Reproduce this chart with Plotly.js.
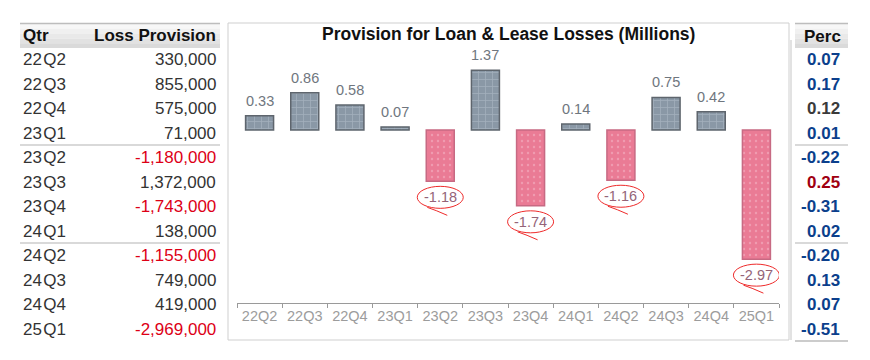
<!DOCTYPE html>
<html>
<head>
<meta charset="utf-8">
<script src="https://cdn.plot.ly/plotly-3.0.1.min.js"></script>
<style>html,body{margin:0;padding:0;background:#fff;}#chart{width:870px;height:360px;}</style>
</head>
<body>
<div id="chart"></div>
<script>
// ---- data ----
var quarters = ["22Q2","22Q3","22Q4","23Q1","23Q2","23Q3","23Q4","24Q1","24Q2","24Q3","24Q4","25Q1"];
var tableQtr = ["22\u200AQ2","22\u200AQ3","22\u200AQ4","23\u200AQ1","23\u200AQ2","23\u200AQ3","23\u200AQ4","24\u200AQ1","24\u200AQ2","24\u200AQ3","24\u200AQ4","25\u200AQ1"];
var provision = [330000, 855000, 575000, 71000, -1180000, 1372000, -1743000, 138000, -1155000, 749000, 419000, -2969000];
var perc = ["0.07","0.17","0.12","0.01","-0.22","0.25","-0.31","0.02","-0.20","0.13","0.07","-0.51"];
var percColors = ["#0b3f8c","#0b3f8c","#3a3a3a","#0b3f8c","#0b3f8c","#a00010","#0b3f8c","#0b3f8c","#0b3f8c","#0b3f8c","#0b3f8c","#0b3f8c"];

// ---- helpers ----
var W = 870, H = 360;
function px(x){ return x / W; }
function py(y){ return 1 - y / H; }
var FONT = "Liberation Sans, Arial, sans-serif";

var millions = provision.map(function(v){ return v / 1e6; });
var labels = provision.map(function(v){
  var s = v < 0 ? -1 : 1;
  return (s * Math.round(Math.abs(v) / 10000) / 100).toFixed(2);
});
function fmt(v){
  var s = Math.abs(v).toString().replace(/\B(?=(\d{3})+(?!\d))/g, ",");
  return (v < 0 ? "-" : "") + s;
}
var isNeg = millions.map(function(v){ return v < 0; });

var posTrace = {
  type: "bar", x: quarters,
  y: millions.map(function(v){ return v >= 0 ? v : null; }),
  width: 0.62,
  marker: {
    color: "#8a98a6",
    line: {color: "#5e656d", width: 1.5},
    pattern: {shape: "+", fillmode: "overlay", fgcolor: "#bcc7d2", bgcolor: "#8a98a6", size: 7, solidity: 0.2}
  },
  hoverinfo: "skip"
};
var negTrace = {
  type: "bar", x: quarters,
  y: millions.map(function(v){ return v < 0 ? v : null; }),
  width: 0.62,
  marker: {
    color: "#ea7b95",
    line: {color: "#c76a83", width: 1.5},
    pattern: {shape: ".", fillmode: "overlay", fgcolor: "#f6bccb", bgcolor: "#ea7b95", size: 6, solidity: 0.12}
  },
  hoverinfo: "skip"
};

var shapes = [];
var annotations = [];

// chart panel border
shapes.push({type:"rect", xref:"paper", yref:"paper", x0:px(228), x1:px(789), y0:py(340), y1:py(23), line:{color:"#cfcfcf", width:1}, fillcolor:"rgba(0,0,0,0)", layer:"below"});
shapes.push({type:"line", xref:"paper", yref:"paper", x0:px(791), x1:px(791), y0:py(340), y1:py(40), line:{color:"#e2e2e2", width:2}});

// header backgrounds (gradient approximation)
function headerBg(x0, x1){
  var steps = ["#f7f7f7","#f0f0f0","#e9e9e9","#e2e2e2","#dadada"];
  var top = 24, bot = 48, h = (bot - top) / steps.length;
  for (var i = 0; i < steps.length; i++){
    shapes.push({type:"rect", xref:"paper", yref:"paper", x0:px(x0), x1:px(x1), y0:py(top + (i+1)*h), y1:py(top + i*h), line:{width:0}, fillcolor:steps[i], layer:"below"});
  }
  shapes.push({type:"line", xref:"paper", yref:"paper", x0:px(x0), x1:px(x1), y0:py(23.5), y1:py(23.5), line:{color:"#bdbdbd", width:1.5}});
}
headerBg(20, 220);
headerBg(795, 848);

// separators
[145, 243].forEach(function(y){
  shapes.push({type:"line", xref:"paper", yref:"paper", x0:px(20), x1:px(220), y0:py(y), y1:py(y), line:{color:"#cccccc", width:1.5}});
  shapes.push({type:"line", xref:"paper", yref:"paper", x0:px(795), x1:px(848), y0:py(y), y1:py(y), line:{color:"#cccccc", width:1.5}});
});
shapes.push({type:"line", xref:"paper", yref:"paper", x0:px(795), x1:px(848), y0:py(341), y1:py(341), line:{color:"#bbbbbb", width:1.5}});

// headers
annotations.push({xref:"paper", yref:"paper", x:px(21), y:py(36), xanchor:"left", yanchor:"middle", text:"<b>Qtr</b>", showarrow:false, font:{family:FONT, size:17, color:"#111"}});
annotations.push({xref:"paper", yref:"paper", x:px(218), y:py(36), xanchor:"right", yanchor:"middle", text:"<b>Loss Provision</b>", showarrow:false, font:{family:FONT, size:17, color:"#111"}});
annotations.push({xref:"paper", yref:"paper", x:px(822), y:py(37), xanchor:"center", yanchor:"middle", text:"<b>Perc</b>", showarrow:false, font:{family:FONT, size:17, color:"#111"}});
annotations.push({xref:"paper", yref:"paper", x:px(508), y:py(34), xanchor:"center", yanchor:"middle", text:"<b>Provision for Loan &amp; Lease Losses (Millions)</b>", showarrow:false, font:{family:FONT, size:17.5, color:"#111"}});

// rows
for (var i = 0; i < quarters.length; i++){
  var y = 59.5 + 24.5 * i;
  annotations.push({xref:"paper", yref:"paper", x:px(21), y:py(y), xanchor:"left", yanchor:"middle", text:tableQtr[i], showarrow:false, font:{family:FONT, size:17, color:"#333"}});
  annotations.push({xref:"paper", yref:"paper", x:px(218), y:py(y), xanchor:"right", yanchor:"middle", text:fmt(provision[i]), showarrow:false, font:{family:FONT, size:17, color: provision[i] < 0 ? "#dd0016" : "#333"}});
  annotations.push({xref:"paper", yref:"paper", x:px(842), y:py(y), xanchor:"right", yanchor:"middle", text:"<b>" + perc[i] + "</b>", showarrow:false, font:{family:FONT, size:17, color:percColors[i]}});
}

// value labels and red hand-drawn callouts
for (var j = 0; j < quarters.length; j++){
  annotations.push({xref:"x", yref:"y", x:j, y:millions[j], xanchor:"center", yanchor:"middle", yshift: isNeg[j] ? -16 : 15, text:labels[j], showarrow:false, font:{family:FONT, size:14.5, color: isNeg[j] ? "#946478" : "#6f767e"}});
  if (!isNeg[j]) continue;
  shapes.push({type:"circle", xref:"x", yref:"y", xsizemode:"pixel", ysizemode:"pixel", xanchor:j, yanchor:millions[j], x0:-23, x1:23, y0:-5, y1:-27, line:{color:"#ee2a2a", width:1}, fillcolor:"rgba(0,0,0,0)"});
  shapes.push({type:"path", xref:"x", yref:"y", xsizemode:"pixel", ysizemode:"pixel", xanchor:j, yanchor:millions[j], path:"M -13 -26 Q -4 -29 7 -34", line:{color:"#ee2a2a", width:1}});
}

var layout = {
  width: W, height: H,
  margin: {l:0, r:0, t:0, b:0},
  paper_bgcolor: "#fff", plot_bgcolor: "rgba(0,0,0,0)",
  showlegend: false,
  barmode: "overlay",
  xaxis: {
    domain: [237/W, 779/W],
    type: "category",
    range: [-0.5, 11.5],
    showline: true, linecolor: "#9a9a9a", linewidth: 1,
    ticks: "outside", tickson: "boundaries", ticklen: 4, tickcolor: "#9a9a9a",
    tickangle: 0,
    tickfont: {family: FONT, size: 14.5, color: "#9c9c9c"},
    showgrid: false, zeroline: false, fixedrange: true
  },
  yaxis: {
    domain: [57/H, 312/H],
    range: [-3.977, 1.885],
    visible: false, showgrid: false, zeroline: false, fixedrange: true
  },
  shapes: shapes,
  annotations: annotations
};

Plotly.newPlot("chart", [posTrace, negTrace], layout, {displayModeBar: false, staticPlot: true});
</script>
</body>
</html>
